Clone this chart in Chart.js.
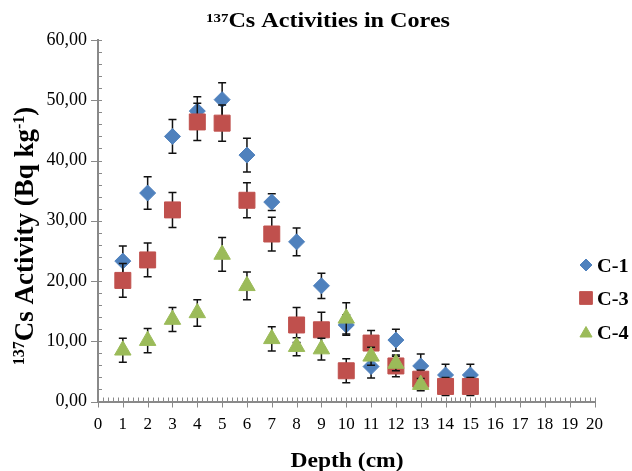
<!DOCTYPE html>
<html>
<head>
<meta charset="utf-8">
<title>137Cs Activities in Cores</title>
<script src="https://cdn.jsdelivr.net/npm/chart.js@4.4.1/dist/chart.umd.min.js"></script>
<style>
  html, body { margin: 0; padding: 0; background: #fff; }
  canvas { display: block; }
</style>
</head>
<body>
<canvas id="coresChart" width="632" height="471"></canvas>
<script>
// depth (cm) of each slice
const depths = [1, 2, 3, 4, 5, 6, 7, 8, 9, 10, 11, 12, 13, 14, 15];

// 137Cs activity (Bq/kg) and its error, per core
const c1Activity = [23.3, 34.6, 44.0, 48.2, 50.1, 40.9, 33.1, 26.5, 19.2, 12.7, 5.8, 10.2, 5.9, 4.4, 4.4];
const c1Error = [2.5, 2.7, 2.8, 2.4, 2.8, 2.8, 1.4, 2.3, 2.1, 1.7, 1.9, 1.8, 2.0, 1.8, 1.8];
const c3Activity = [20.1, 23.5, 31.8, 46.4, 46.2, 33.4, 27.8, 12.7, 11.9, 5.1, 9.7, 5.9, 3.7, 2.5, 2.5];
const c3Error = [2.8, 2.8, 2.9, 3.1, 3.0, 2.9, 2.8, 2.9, 2.9, 2.0, 2.1, 1.8, 1.5, 1.5, 1.5];
const c4Activity = [8.5, 10.1, 13.6, 14.7, 24.4, 19.2, 10.4, 9.1, 8.7, 13.8, 7.5, 6.3, 2.8];
const c4Error = [2.0, 2.0, 2.0, 2.2, 2.8, 2.3, 2.0, 1.5, 1.8, 2.6, 1.5, 1.2, 1.0];

const seriesNames = ['C-1', 'C-3', 'C-4'];
const seriesColors = ['#4F81BD', '#C0504D', '#9BBB59'];

// axis ranges
const xMin = 0;
const xMax = 20;
const yMin = 0;
const yMax = 60;
const yStep = 10;

const FONT = '"Liberation Serif", "Times New Roman", serif';
const AXIS_GREY = '#898989';

const toPoints = (values) => values.map((v, i) => ({ x: depths[i], y: v }));
const errors = [c1Error, c3Error, c4Error];

// text with superscripts, drawn on the canvas
const drawRich = (ctx, parts, x, baseline, stretch, align) => {
  const widths = parts.map((p) => {
    ctx.font = `bold ${p.size}px ${FONT}`;
    return ctx.measureText(p.text).width;
  });
  const total = widths.reduce((a, b) => a + b, 0);
  ctx.save();
  ctx.translate(x, baseline);
  ctx.scale(stretch, 1);
  ctx.fillStyle = '#000';
  ctx.textAlign = 'left';
  ctx.textBaseline = 'alphabetic';
  let cur = align === 'left' ? 0 : -total / 2;
  parts.forEach((p, i) => {
    ctx.font = `bold ${p.size}px ${FONT}`;
    ctx.fillText(p.text, cur, -(p.rise || 0));
    cur += widths[i];
  });
  ctx.restore();
};

const errorBars = {
  id: 'errorBars',
  beforeDatasetDraw(chart, args) {
    const { ctx, scales } = chart;
    const errs = errors[args.index];
    const data = chart.data.datasets[args.index].data;
    ctx.save();
    ctx.strokeStyle = '#111';
    ctx.lineWidth = 1.5;
    data.forEach((pt, i) => {
      const px = scales.x.getPixelForValue(pt.x);
      const top = scales.y.getPixelForValue(pt.y + errs[i]);
      const bottom = scales.y.getPixelForValue(pt.y - errs[i]);
      ctx.beginPath();
      ctx.moveTo(px, top);
      ctx.lineTo(px, bottom);
      ctx.moveTo(px - 4, top);
      ctx.lineTo(px + 4, top);
      ctx.moveTo(px - 4, bottom);
      ctx.lineTo(px + 4, bottom);
      ctx.stroke();
    });
    ctx.restore();
  },
};

const tickMarks = {
  id: 'tickMarks',
  beforeDatasetsDraw(chart) {
    const { ctx, chartArea, scales } = chart;
    ctx.save();
    ctx.strokeStyle = AXIS_GREY;
    ctx.lineWidth = 1;
    ctx.beginPath();
    for (let i = 0; i <= (xMax - xMin) * 5; i += 1) {
      const px = Math.round(scales.x.getPixelForValue(xMin + i / 5)) + 0.5;
      const major = i % 5 === 0;
      ctx.moveTo(px, chartArea.bottom - 4);
      ctx.lineTo(px, chartArea.bottom + (major ? 6 : 0));
    }
    for (let i = 0; i <= (yMax - yMin) / 2; i += 1) {
      const py = Math.round(scales.y.getPixelForValue(yMin + i * 2)) + 0.5;
      const major = i % 5 === 0;
      ctx.moveTo(chartArea.left - (major ? 7 : 0), py);
      ctx.lineTo(chartArea.left + 4, py);
    }
    ctx.stroke();
    ctx.restore();
  },
  afterDraw(chart) {
    const { ctx } = chart;
    // chart title
    drawRich(ctx, [
      { text: '137', size: 13, rise: 5.5 },
      { text: 'Cs Activities in Cores', size: 21 },
    ], 328, 27, 1.15);
    // x axis title
    drawRich(ctx, [{ text: 'Depth (cm)', size: 22 }], 347, 467, 1.07);
    // y axis title
    ctx.save();
    ctx.translate(33, 236);
    ctx.rotate(-Math.PI / 2);
    drawRich(ctx, [
      { text: '137', size: 16, rise: 9 },
      { text: 'Cs Activity (Bq kg', size: 27 },
      { text: '-1', size: 16, rise: 9 },
      { text: ')', size: 27 },
    ], 0, 0, 1);
    ctx.restore();
    // legend
    const legendStyles = [
      { pointStyle: 'rectRot', radius: 6 },
      { pointStyle: 'rect', radius: 9 },
      { pointStyle: 'triangle', radius: 7 },
    ];
    const legendY = [265, 298, 332];
    seriesNames.forEach((name, i) => {
      ctx.save();
      ctx.fillStyle = seriesColors[i];
      ctx.strokeStyle = seriesColors[i];
      Chart.helpers.drawPoint(ctx, {
        pointStyle: legendStyles[i].pointStyle,
        radius: legendStyles[i].radius,
        borderWidth: 1,
        rotation: 0,
      }, 586, legendY[i] + (i === 2 ? 1.5 : 0));
      ctx.restore();
      drawRich(ctx, [{ text: name, size: 19 }], 597, legendY[i] + 6.5, 1.07, 'left');
    });
  },
};

const ctx = document.getElementById('coresChart');

new Chart(ctx, {
  type: 'scatter',
  data: {
    datasets: [
      {
        label: seriesNames[0],
        data: toPoints(c1Activity),
        pointStyle: 'rectRot',
        pointRadius: 8,
        pointHoverRadius: 8,
        backgroundColor: seriesColors[0],
        borderColor: seriesColors[0],
        borderWidth: 1,
        order: 2,
      },
      {
        label: seriesNames[1],
        data: toPoints(c3Activity),
        pointStyle: 'rect',
        pointRadius: 11.3,
        pointHoverRadius: 11.3,
        backgroundColor: seriesColors[1],
        borderColor: seriesColors[1],
        borderWidth: 1,
        order: 1,
      },
      {
        label: seriesNames[2],
        data: toPoints(c4Activity),
        pointStyle: 'triangle',
        pointRadius: 9.5,
        pointHoverRadius: 9.5,
        backgroundColor: seriesColors[2],
        borderColor: seriesColors[2],
        borderWidth: 1,
        order: 0,
      },
    ],
  },
  options: {
    responsive: false,
    animation: false,
    devicePixelRatio: 1,
    layout: {
      padding: { top: 40, right: 37.5, bottom: 0, left: 0 },
    },
    plugins: {
      legend: { display: false },
      title: { display: false },
      tooltip: { enabled: false },
    },
    scales: {
      x: {
        type: 'linear',
        min: xMin,
        max: xMax,
        afterFit: (scale) => { scale.height = 69.5; },
        grid: { display: false, drawTicks: false },
        border: { color: AXIS_GREY, width: 2 },
        ticks: {
          stepSize: 1,
          autoSkip: false,
          maxRotation: 0,
          padding: 13,
          color: '#000',
          font: { family: FONT, size: 17 },
        },
      },
      y: {
        type: 'linear',
        min: yMin,
        max: yMax,
        afterFit: (scale) => { scale.width = 98; },
        grid: { display: false, drawTicks: false },
        border: { color: AXIS_GREY, width: 2 },
        ticks: {
          stepSize: yStep,
          padding: 11,
          color: '#000',
          font: { family: FONT, size: 18 },
          callback: (value) => value.toFixed(2).replace('.', ','),
        },
      },
    },
  },
  plugins: [errorBars, tickMarks],
});
</script>
</body>
</html>
